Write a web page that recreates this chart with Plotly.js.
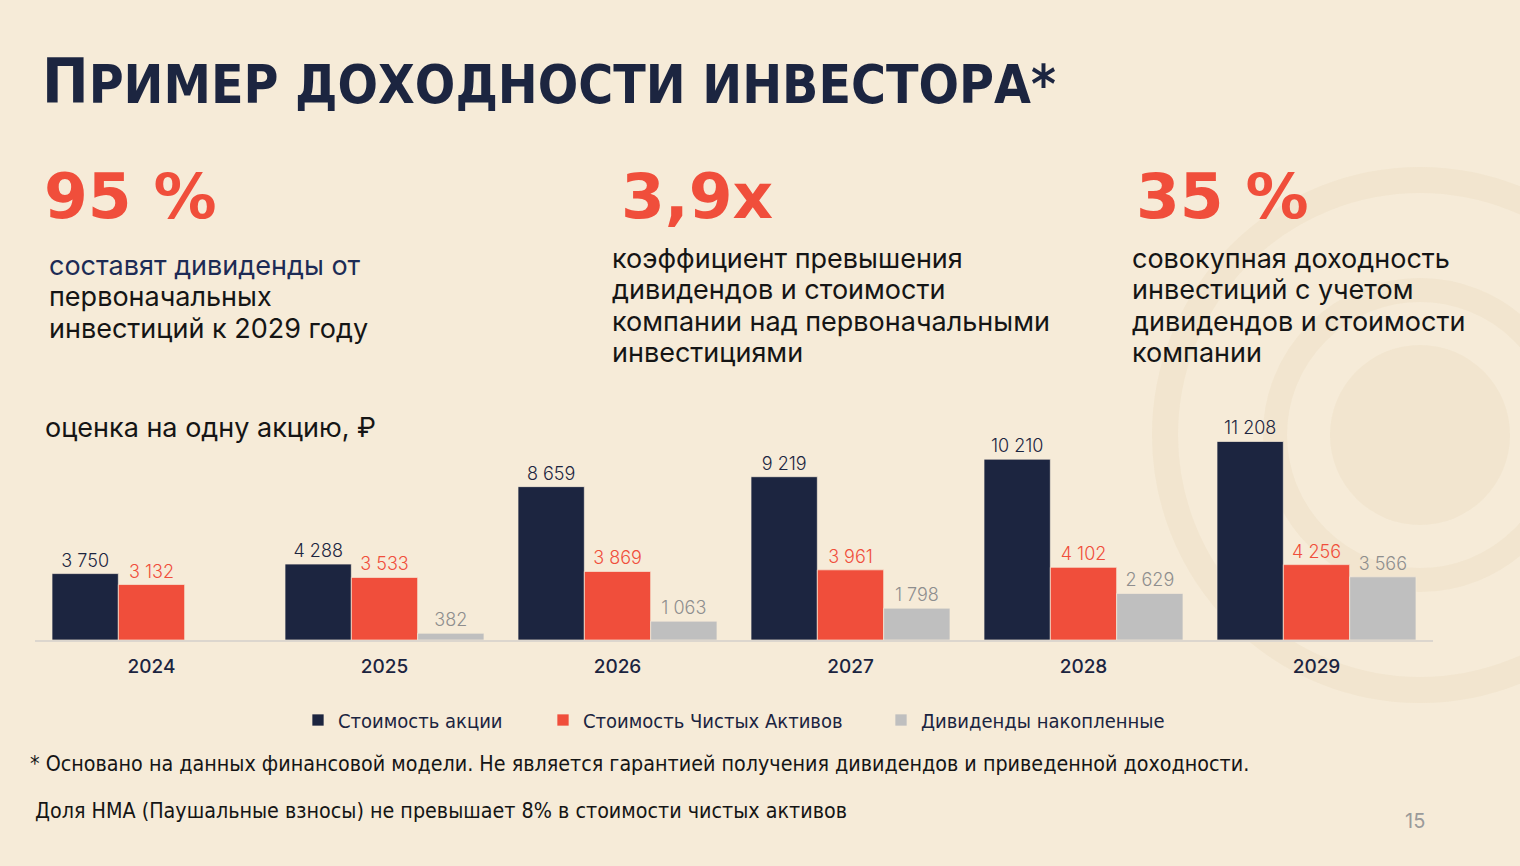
<!DOCTYPE html>
<html>
<head>
<meta charset="utf-8">
<script src="https://cdn.plot.ly/plotly-3.0.1.min.js"></script>
<style>
  html, body { margin: 0; padding: 0; background: #F6EBD8; }
  #chart { width: 1520px; height: 866px; }
</style>
</head>
<body>
<div id="chart"></div>
<script>
// ---- data ----
const years = ['2024', '2025', '2026', '2027', '2028', '2029'];
const shareValue = [3750, 4288, 8659, 9219, 10210, 11208];
const netAssets = [3132, 3533, 3869, 3961, 4102, 4256];
const dividends = [null, 382, 1063, 1798, 2629, 3566];
const seriesNames = ['Стоимость акции', 'Стоимость Чистых Активов', 'Дивиденды накопленные'];

const titleText = 'Пример доходности инвестора*';
const kpiValues = ['95 %', '3,9x', '35 %'];
const kpiLines1 = ['составят дивиденды от', 'первоначальных', 'инвестиций к 2029 году'];
const kpiLines2 = ['коэффициент превышения', 'дивидендов и стоимости', 'компании над первоначальными', 'инвестициями'];
const kpiLines3 = ['совокупная доходность', 'инвестиций с учетом', 'дивидендов и стоимости', 'компании'];
const chartCaption = 'оценка на одну акцию, ₽';
const footnote1 = '* Основано на данных финансовой модели. Не является гарантией получения дивидендов и приведенной доходности.';
const footnote2 = 'Доля НМА (Паушальные взносы) не превышает 8% в стоимости чистых активов';
const pageNumber = '15';

// ---- layout geometry (pixels) ----
const W = 1520, H = 866;
const L = 35, R = 1433, T = 400, B = 640;
const px = x => (x - L) / (R - L);
const py = y => (B - y) / (B - T);

const NAVY = '#1C2540', RED = '#F04E3B', GRAY = '#BFBFBF';
const BODY = 'Inter, "Noto Sans", sans-serif';
const NARROW = '"Liberation Sans Narrow", "DejaVu Sans Condensed", sans-serif';

function barTrace(y, name, color, textColor, legendId) {
  return {
    type: 'bar', x: years, y: y, name: name,
    marker: { color: color, line: { color: 'rgba(246,235,216,0.7)', width: 1 } },
    texttemplate: '%{y:,}', textposition: 'outside', cliponaxis: false,
    textfont: { family: BODY, size: 18, color: textColor, weight: 300 },
    hoverinfo: 'x+y', legend: legendId
  };
}

const data = [
  barTrace(shareValue, seriesNames[0], NAVY, NAVY, 'legend'),
  barTrace(netAssets, seriesNames[1], RED, RED, 'legend2'),
  barTrace(dividends, seriesNames[2], GRAY, '#8E8E8E', 'legend3')
];

const ann = [];
function addText(text, x, y, font, xanchor, yanchor) {
  ann.push({ text: text, xref: 'paper', yref: 'paper', x: px(x), y: py(y),
    xanchor: xanchor || 'left', yanchor: yanchor || 'middle', showarrow: false,
    align: 'left', font: font });
}

// Title
addText('<span style="font-size:62px">' + titleText.charAt(0) + '</span>' + titleText.slice(1),
  40, 82, { family: '"DejaVu Sans Condensed", "DejaVu Sans", sans-serif', size: 53, color: NAVY, weight: 700, textcase: 'upper' });

// KPIs
const kpiFont = { family: '"DejaVu Sans", sans-serif', size: 63, color: RED, weight: 700 };
addText(kpiValues[0], 42, 197, kpiFont);
addText(kpiValues[1], 619, 197, kpiFont);
addText(kpiValues[2], 1134, 197, kpiFont);

const bodyFont = { family: BODY, size: 27, color: '#151515', weight: 400 };
const LINE = 31.5;
kpiLines1.forEach((t, i) => addText(t, 47, 265 + i * LINE,
  i === 0 ? { family: BODY, size: 27, color: '#1D2B55', weight: 400 } : bodyFont));
kpiLines2.forEach((t, i) => addText(t, 610, 258 + i * LINE, bodyFont));
kpiLines3.forEach((t, i) => addText(t, 1130, 258 + i * LINE, bodyFont));

addText(chartCaption, 43, 427, { family: BODY, size: 27, color: '#151515', weight: 400 });

// Footnotes
addText(footnote1, 28, 763, { family: NARROW, size: 21.3, color: '#151515' });
addText(footnote2, 33, 810, { family: NARROW, size: 21.3, color: '#151515' });
addText(pageNumber, 1415, 821, { family: BODY, size: 20, color: '#9A9A9A' }, 'center');

// Decorative background rings
const ring = 'rgba(214,190,150,0.13)';
const shapes = [
  { type: 'circle', xref: 'paper', yref: 'paper', layer: 'below',
    x0: px(1330), x1: px(1510), y0: py(525), y1: py(345), fillcolor: ring, line: { width: 0 } },
  { type: 'circle', xref: 'paper', yref: 'paper', layer: 'below',
    x0: px(1275), x1: px(1565), y0: py(580), y1: py(290), fillcolor: 'rgba(0,0,0,0)', line: { color: ring, width: 24 } },
  { type: 'circle', xref: 'paper', yref: 'paper', layer: 'below',
    x0: px(1165), x1: px(1675), y0: py(690), y1: py(180), fillcolor: 'rgba(0,0,0,0)', line: { color: ring, width: 26 } }
];

const legendFont = { family: NARROW, size: 20, color: '#1B2440' };
function legendAt(x) {
  return { orientation: 'h', x: px(x - 20), y: py(720), xanchor: 'left', yanchor: 'middle',
    bgcolor: 'rgba(0,0,0,0)', font: legendFont, itemwidth: 30, itemclick: false, itemdoubleclick: false };
}

const layout = {
  width: W, height: H,
  paper_bgcolor: '#F6EBD8', plot_bgcolor: 'rgba(0,0,0,0)',
  margin: { l: L, r: W - R, t: T, b: H - B },
  separators: ', ',
  barmode: 'group', bargap: 0.146, bargroupgap: 0,
  showlegend: true,
  legend: legendAt(318), legend2: legendAt(563), legend3: legendAt(901),
  xaxis: {
    type: 'category', showgrid: false, zeroline: false,
    showline: true, linecolor: '#DCD6CE', linewidth: 2,
    ticks: '', ticklabelstandoff: 8,
    tickfont: { family: BODY, size: 19, color: '#1B2440', weight: 500 },
    fixedrange: true
  },
  yaxis: { range: [0, 13550], visible: false, fixedrange: true },
  annotations: ann,
  shapes: shapes,
  hovermode: false
};

Plotly.newPlot('chart', data, layout, { displayModeBar: false, staticPlot: true });
</script>
</body>
</html>
